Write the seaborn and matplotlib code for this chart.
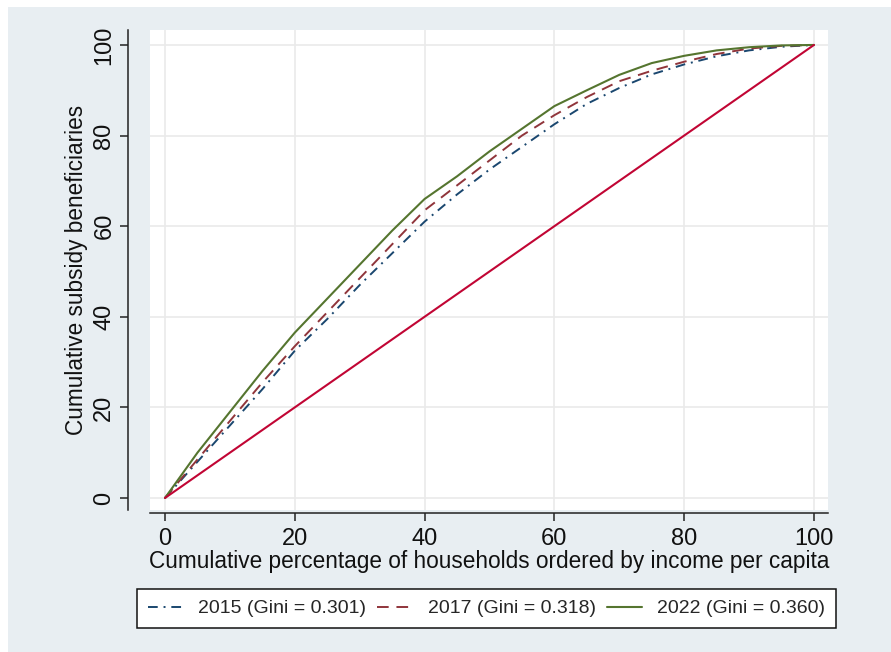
import numpy as np
import pandas as pd
import seaborn as sns
import matplotlib.pyplot as plt
from matplotlib import font_manager
from matplotlib.patches import Rectangle

# cumulative % of households (ventiles)
pct_households = [0, 5, 10, 15, 20, 25, 30, 35, 40, 45, 50,
                  55, 60, 65, 70, 75, 80, 85, 90, 95, 100]
# cumulative % of subsidy beneficiaries
benef_2015 = [0, 8, 16, 24, 32.5, 39.5, 47, 54, 61, 67, 72.5,
              77.5, 82.5, 87, 90.5, 93.5, 95.7, 97.5, 98.8, 99.6, 100]
benef_2017 = [0, 8.5, 17, 25.5, 33.5, 41, 48.5, 56, 63.5, 69, 74.5,
              80, 84.5, 88.5, 92, 94.3, 96.3, 98, 99.2, 99.8, 100]
benef_2022 = [0, 10, 19, 28, 36.5, 44, 51.5, 59, 66, 71, 76.5,
              81.5, 86.5, 90, 93.4, 96, 97.6, 98.8, 99.5, 99.9, 100]
labels = ["2015 (Gini = 0.301)", "2017 (Gini = 0.318)", "2022 (Gini = 0.360)"]
ticks = [0, 20, 40, 60, 80, 100]

sns.set_style("white")
names = {f.name for f in font_manager.fontManager.ttflist}
fam = "Liberation Sans Narrow" if "Liberation Sans Narrow" in names else "Liberation Sans"
plt.rcParams['font.family'] = [fam, 'DejaVu Sans']

fig = plt.figure(figsize=(8.91, 6.52), dpi=100)
fig.patch.set_facecolor("white")
# stata-like light background (white strip at top/left)
fig.patches.append(Rectangle((8 / 891, 0), 1, 1 - 7 / 652, transform=fig.transFigure,
                             facecolor="#E8EEF2", edgecolor="none", zorder=-10))

ax = fig.add_axes([150 / 891, 1 - 510 / 652, 678 / 891, 480 / 652])
ax.set_facecolor("white")

df = pd.DataFrame({"x": pct_households, "y15": benef_2015,
                   "y17": benef_2017, "y22": benef_2022})

sns.lineplot(data=df, x="x", y="y15", ax=ax, color="#1A476F", lw=1.4,
             label=labels[0]).lines[-1].set_dashes([5, 3, 1, 3])
sns.lineplot(data=df, x="x", y="y17", ax=ax, color="#90353B", lw=1.4,
             label=labels[1]).lines[-1].set_dashes([6, 4])
sns.lineplot(data=df, x="x", y="y22", ax=ax, color="#55752F", lw=1.5,
             label=labels[2])
# line of equality
sns.lineplot(x=[0, 100], y=[0, 100], ax=ax, color="#C10534", lw=1.5)

ax.set_xlim(-2.31, 102.16)
ax.set_ylim(-2.65, 103.3)
ax.set_xticks(ticks)
ax.set_yticks(ticks)
ax.grid(True, color="#EAEAEA", lw=1.2)

for s in ["top", "right"]:
    ax.spines[s].set_visible(False)
ax.spines["left"].set_position(("outward", 16))
ax.spines["bottom"].set_position(("outward", 2))
for s in ["left", "bottom"]:
    ax.spines[s].set_color("#222222")
    ax.spines[s].set_linewidth(1.1)

ax.tick_params(axis="both", direction="out", length=6, width=1.1, color="#222222",
               labelsize=17, labelcolor="#111111", bottom=True, left=True)
ax.tick_params(axis="x", pad=5)
ax.tick_params(axis="y", pad=3)
for t in ax.get_yticklabels():
    t.set_rotation(90)
    t.set_va("center")

ax.set_xlabel("Cumulative percentage of households ordered by income per capita",
              fontsize=16.3, color="#111111", labelpad=0)
ax.set_ylabel("Cumulative subsidy beneficiaries", fontsize=16.3, color="#111111", labelpad=4)

h, l = ax.get_legend_handles_labels()
ax.get_legend().remove()
fig.legend(h, l, loc="lower left", ncol=3, mode="expand",
           bbox_to_anchor=(137 / 891, 1 - 628 / 652, 699 / 891, 41 / 652),
           frameon=True, fancybox=False, edgecolor="#111111", facecolor="white",
           framealpha=1, fontsize=14, handlelength=1.8, borderaxespad=0,
           borderpad=0.55)
fig.legends[0].get_frame().set_linewidth(1.1)

fig.savefig("out.png", dpi=100)
